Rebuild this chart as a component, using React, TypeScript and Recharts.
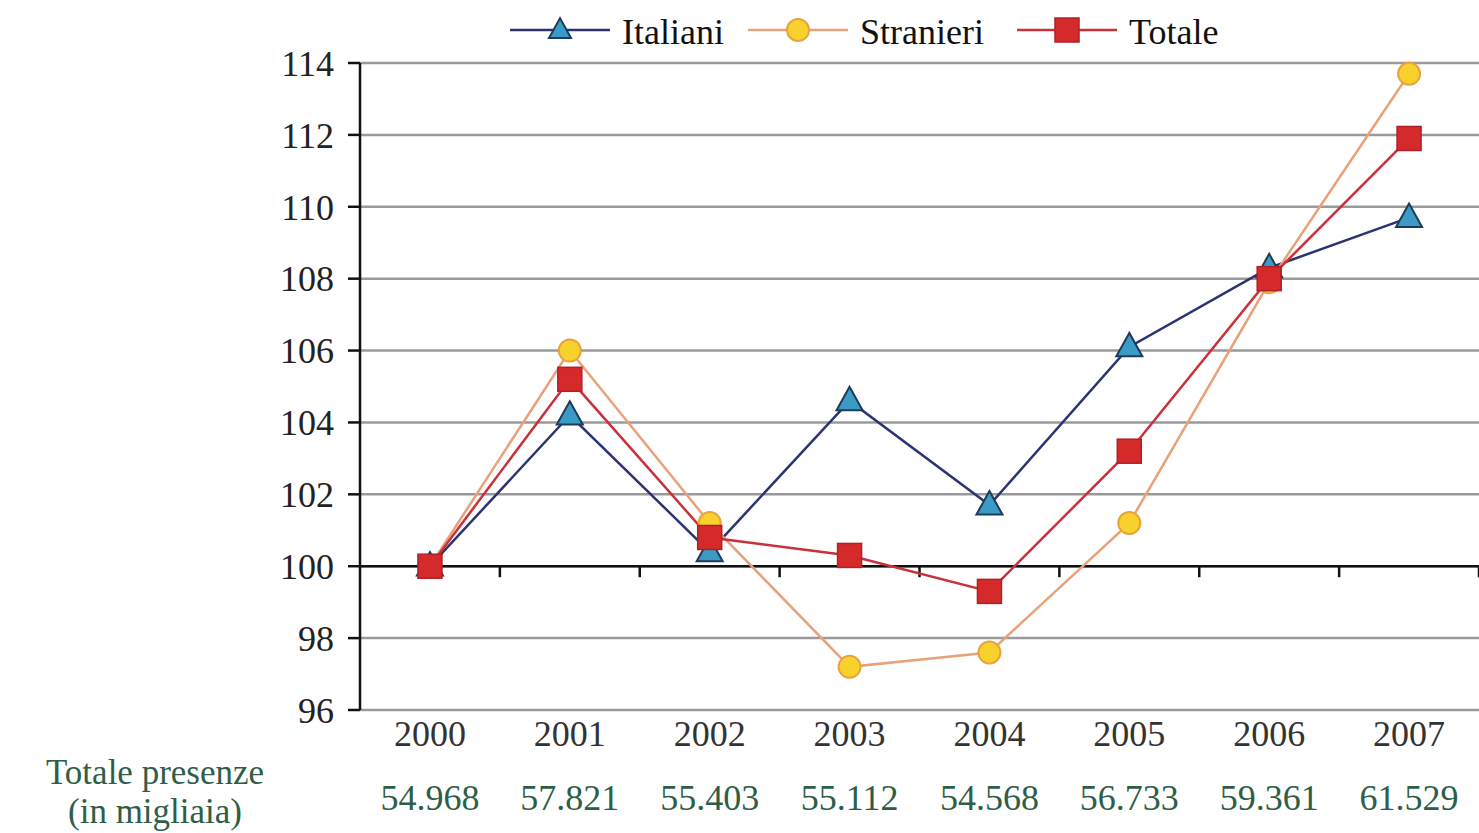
import React from 'react';
import { CartesianGrid, Line, LineChart, ReferenceLine, XAxis, YAxis } from 'recharts';

const years = ['2000', '2001', '2002', '2003', '2004', '2005', '2006', '2007'];
const italiani = [100, 104.2, 100.4, 104.6, 101.7, 106.1, 108.3, 109.7];
const stranieri = [100, 106.0, 101.2, 97.2, 97.6, 101.2, 107.9, 113.7];
const totale = [100, 105.2, 100.8, 100.3, 99.3, 103.2, 108.0, 111.9];
const presenze = ['54.968', '57.821', '55.403', '55.112', '54.568', '56.733', '59.361', '61.529'];
const yTicks = [96, 98, 100, 102, 104, 106, 108, 110, 112, 114];

const data = years.map((year, i) => ({
  year,
  italiani: italiani[i],
  stranieri: stranieri[i],
  totale: totale[i],
  presenze: presenze[i],
}));

const FONT = '"Liberation Serif", "DejaVu Serif", serif';
const GREEN = '#2e5e48';

const C = {
  itaLine: '#2b3470',
  itaFill: '#3a9cc4',
  strLine: '#e8a27a',
  strFill: '#f7d22c',
  strEdge: '#eaa23a',
  totLine: '#c8323c',
  totFill: '#d42a2a',
};

function Triangle({ cx, cy, size = 13 }: { cx: number; cy: number; size?: number }) {
  const h = size * 1.8;
  return (
    <polygon
      points={`${cx},${cy - h * 0.6} ${cx - size},${cy + h * 0.4} ${cx + size},${cy + h * 0.4}`}
      fill={C.itaFill}
      stroke="#1f3a5a"
      strokeWidth={2}
    />
  );
}

function Circle({ cx, cy }: { cx: number; cy: number }) {
  return <circle cx={cx} cy={cy} r={11} fill={C.strFill} stroke={C.strEdge} strokeWidth={2} />;
}

function Square({ cx, cy }: { cx: number; cy: number }) {
  return <rect x={cx - 12} y={cy - 12} width={24} height={24} fill={C.totFill} stroke="#b02028" strokeWidth={1.5} />;
}

// year on the first row, total presences (green) on the second
function YearTick(props: any) {
  const { x, y, payload, index } = props;
  const row = data[index] ?? data.find((d) => d.year === payload.value);
  return (
    <g>
      <text x={x} y={y + 28} textAnchor="middle" fontFamily={FONT} fontSize={36} fill="#333">
        {payload.value}
      </text>
      <text x={x} y={y + 92} textAnchor="middle" fontFamily={FONT} fontSize={36} fill={GREEN}>
        {row ? row.presenze : ''}
      </text>
    </g>
  );
}

// category axis crossing at 100, with ticks between categories
function AxisAt100(props: any) {
  const { x1, x2, y1 } = props;
  if (x1 == null || x2 == null || y1 == null) return null;
  const n = years.length;
  const w = (x2 - x1) / n;
  const ticks = [];
  for (let k = 1; k <= n; k++) {
    ticks.push(<line key={k} x1={x1 + k * w} x2={x1 + k * w} y1={y1} y2={y1 + 11} stroke="#111" strokeWidth={2.5} />);
  }
  return (
    <g>
      <line x1={x1} x2={x2} y1={y1} y2={y1} stroke="#111" strokeWidth={2.5} />
      {ticks}
    </g>
  );
}

function LegendItem({ x, label, kind }: { x: number; label: string; kind: 'ita' | 'str' | 'tot' }) {
  const color = kind === 'ita' ? C.itaLine : kind === 'str' ? C.strLine : C.totLine;
  const mx = x + 50;
  const my = 30;
  return (
    <g>
      <line x1={x} x2={x + 100} y1={my} y2={my} stroke={color} strokeWidth={2.5} />
      {kind === 'ita' && <Triangle cx={mx} cy={my} size={11} />}
      {kind === 'str' && <Circle cx={mx} cy={my} />}
      {kind === 'tot' && <Square cx={mx} cy={my} />}
      <text x={x + 112} y={44} fontFamily={FONT} fontSize={36} fill="#111">
        {label}
      </text>
    </g>
  );
}

export default function App() {
  return (
    <div style={{ position: 'relative', width: 1479, height: 833, background: '#fff' }}>
      <style>{'body{margin:0;background:#fff}'}</style>
      <LineChart
        width={1479}
        height={833}
        data={data}
        margin={{ top: 63, right: 0, bottom: 0, left: 0 }}
      >
        <CartesianGrid vertical={false} stroke="#9a9a9a" strokeWidth={2.5} />
        <XAxis
          dataKey="year"
          scale="band"
          axisLine={false}
          tickLine={false}
          height={123}
          tick={<YearTick />}
          interval={0}
        />
        <YAxis
          domain={[96, 114]}
          ticks={yTicks}
          width={360}
          interval={0}
          axisLine={{ stroke: '#111', strokeWidth: 2.5 }}
          tickLine={{ stroke: '#111', strokeWidth: 2.5 }}
          tickSize={12}
          tickMargin={14}
          tick={{ fontFamily: FONT, fontSize: 36, fill: '#222' }}
        />
        <ReferenceLine y={100} shape={(p: any) => <AxisAt100 {...p} />} />
        <Line
          dataKey="italiani"
          stroke={C.itaLine}
          strokeWidth={2.5}
          isAnimationActive={false}
          dot={(p: any) => <Triangle key={`i${p.index}`} cx={p.cx} cy={p.cy} />}
        />
        <Line
          dataKey="stranieri"
          stroke={C.strLine}
          strokeWidth={2.5}
          isAnimationActive={false}
          dot={(p: any) => <Circle key={`s${p.index}`} cx={p.cx} cy={p.cy} />}
        />
        <Line
          dataKey="totale"
          stroke={C.totLine}
          strokeWidth={2.5}
          isAnimationActive={false}
          dot={(p: any) => <Square key={`t${p.index}`} cx={p.cx} cy={p.cy} />}
        />
      </LineChart>
      <svg
        width={1479}
        height={833}
        style={{ position: 'absolute', left: 0, top: 0, pointerEvents: 'none' }}
      >
        <LegendItem x={510} label="Italiani" kind="ita" />
        <LegendItem x={748} label="Stranieri" kind="str" />
        <LegendItem x={1017} label="Totale" kind="tot" />
        <text x={155} y={784} textAnchor="middle" fontFamily={FONT} fontSize={35} fill={GREEN}>
          Totale presenze
        </text>
        <text x={155} y={823} textAnchor="middle" fontFamily={FONT} fontSize={35} fill={GREEN}>
          (in migliaia)
        </text>
      </svg>
    </div>
  );
}
